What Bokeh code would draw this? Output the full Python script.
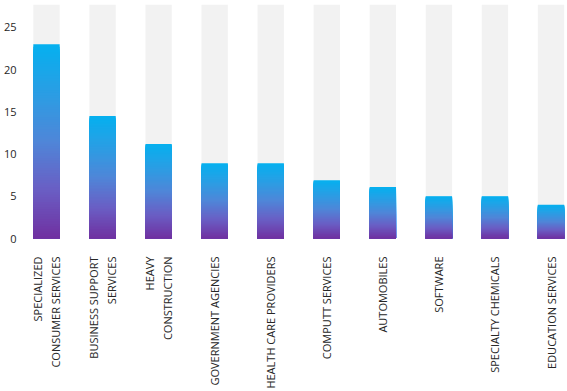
import numpy as np
from bokeh.plotting import figure
from bokeh.models import Range1d, FixedTicker
from bokeh.embed import file_html
from bokeh.resources import INLINE

# ---- data ----
categories = [
    "SPECIALIZED\nCONSUMER SERVICES",
    "BUSINESS SUPPORT\nSERVICES",
    "HEAVY\nCONSTRUCTION",
    "GOVERNMENT AGENCIES",
    "HEALTH CARE PROVIDERS",
    "COMPUTT SERVICES",
    "AUTOMOBILES",
    "SOFTWARE",
    "SPECIALTY CHEMICALS",
    "EDUCATION SERVICES",
]
values = [23.0, 14.5, 11.2, 8.9, 8.9, 6.9, 6.1, 5.0, 5.0, 4.0]
track_max = 27.7
y_ticks = [0, 5, 10, 15, 20, 25]

# ---- style ----
FONT = "Open Sans"
BAR_W = 0.47
grad_stops = [0.0, 0.25, 0.5, 0.75, 1.0]
grad_cols = ["#7030A0", "#6A5EC4", "#4F86D8", "#2A9EE4", "#05B0EF"]
N_SLICES = 80

def hex2rgb(h):
    h = h.lstrip("#")
    return [int(h[i:i + 2], 16) for i in (0, 2, 4)]

stop_rgb = np.array([hex2rgb(c) for c in grad_cols], dtype=float)

def grad_color(t):
    r = np.interp(t, grad_stops, stop_rgb[:, 0])
    g = np.interp(t, grad_stops, stop_rgb[:, 1])
    b = np.interp(t, grad_stops, stop_rgb[:, 2])
    return "#%02x%02x%02x" % (int(round(r)), int(round(g)), int(round(b)))

xs = list(range(len(categories)))

p = figure(
    width=567, height=391,
    x_range=Range1d(-0.428, 9.294),
    y_range=Range1d(0, 28.19),
    output_backend="svg", toolbar_location=None,
    min_border_left=22, min_border_right=0, min_border_top=0, min_border_bottom=150,
)
p.outline_line_color = None
p.grid.visible = False
p.background_fill_color = "white"
p.border_fill_color = "white"

# background (track) bars
p.vbar(x=xs, top=[track_max] * len(xs), bottom=0, width=BAR_W,
       fill_color="#F2F2F2", line_color=None)

# gradient bars: nested rectangles from 0 up to fractions of each value,
# drawn tallest first so shorter (more purple) ones overlay without seams
sx, st, sc = [], [], []
for k in range(N_SLICES, 0, -1):
    t = k / N_SLICES
    for x, v in zip(xs, values):
        sx.append(x)
        st.append(v * t)
        sc.append(grad_color(t - 0.5 / N_SLICES))
p.vbar(x=sx, bottom=0, top=st, width=BAR_W, fill_color=sc, line_color=None)

# axes
p.xaxis.ticker = FixedTicker(ticks=xs)
p.xaxis.major_label_overrides = {i: c for i, c in enumerate(categories)}
p.xaxis.major_label_orientation = np.pi / 2
p.xaxis.major_label_standoff = 12
p.xaxis.major_label_text_font = FONT
p.xaxis.major_label_text_font_size = "11px"
p.xaxis.major_label_text_color = "#262626"
p.xaxis.axis_line_color = None
p.xaxis.major_tick_line_color = None
p.xaxis.minor_tick_line_color = None

p.yaxis.ticker = FixedTicker(ticks=y_ticks)
p.yaxis.major_tick_out = 0
p.yaxis.major_tick_in = 0
p.yaxis.major_label_standoff = 6
p.yaxis.major_label_text_font = FONT
p.yaxis.major_label_text_font_size = "11px"
p.yaxis.major_label_text_color = "#262626"
p.yaxis.axis_line_color = None
p.yaxis.major_tick_line_color = None
p.yaxis.minor_tick_line_color = None

open("out.html", "w").write(file_html(p, INLINE))
